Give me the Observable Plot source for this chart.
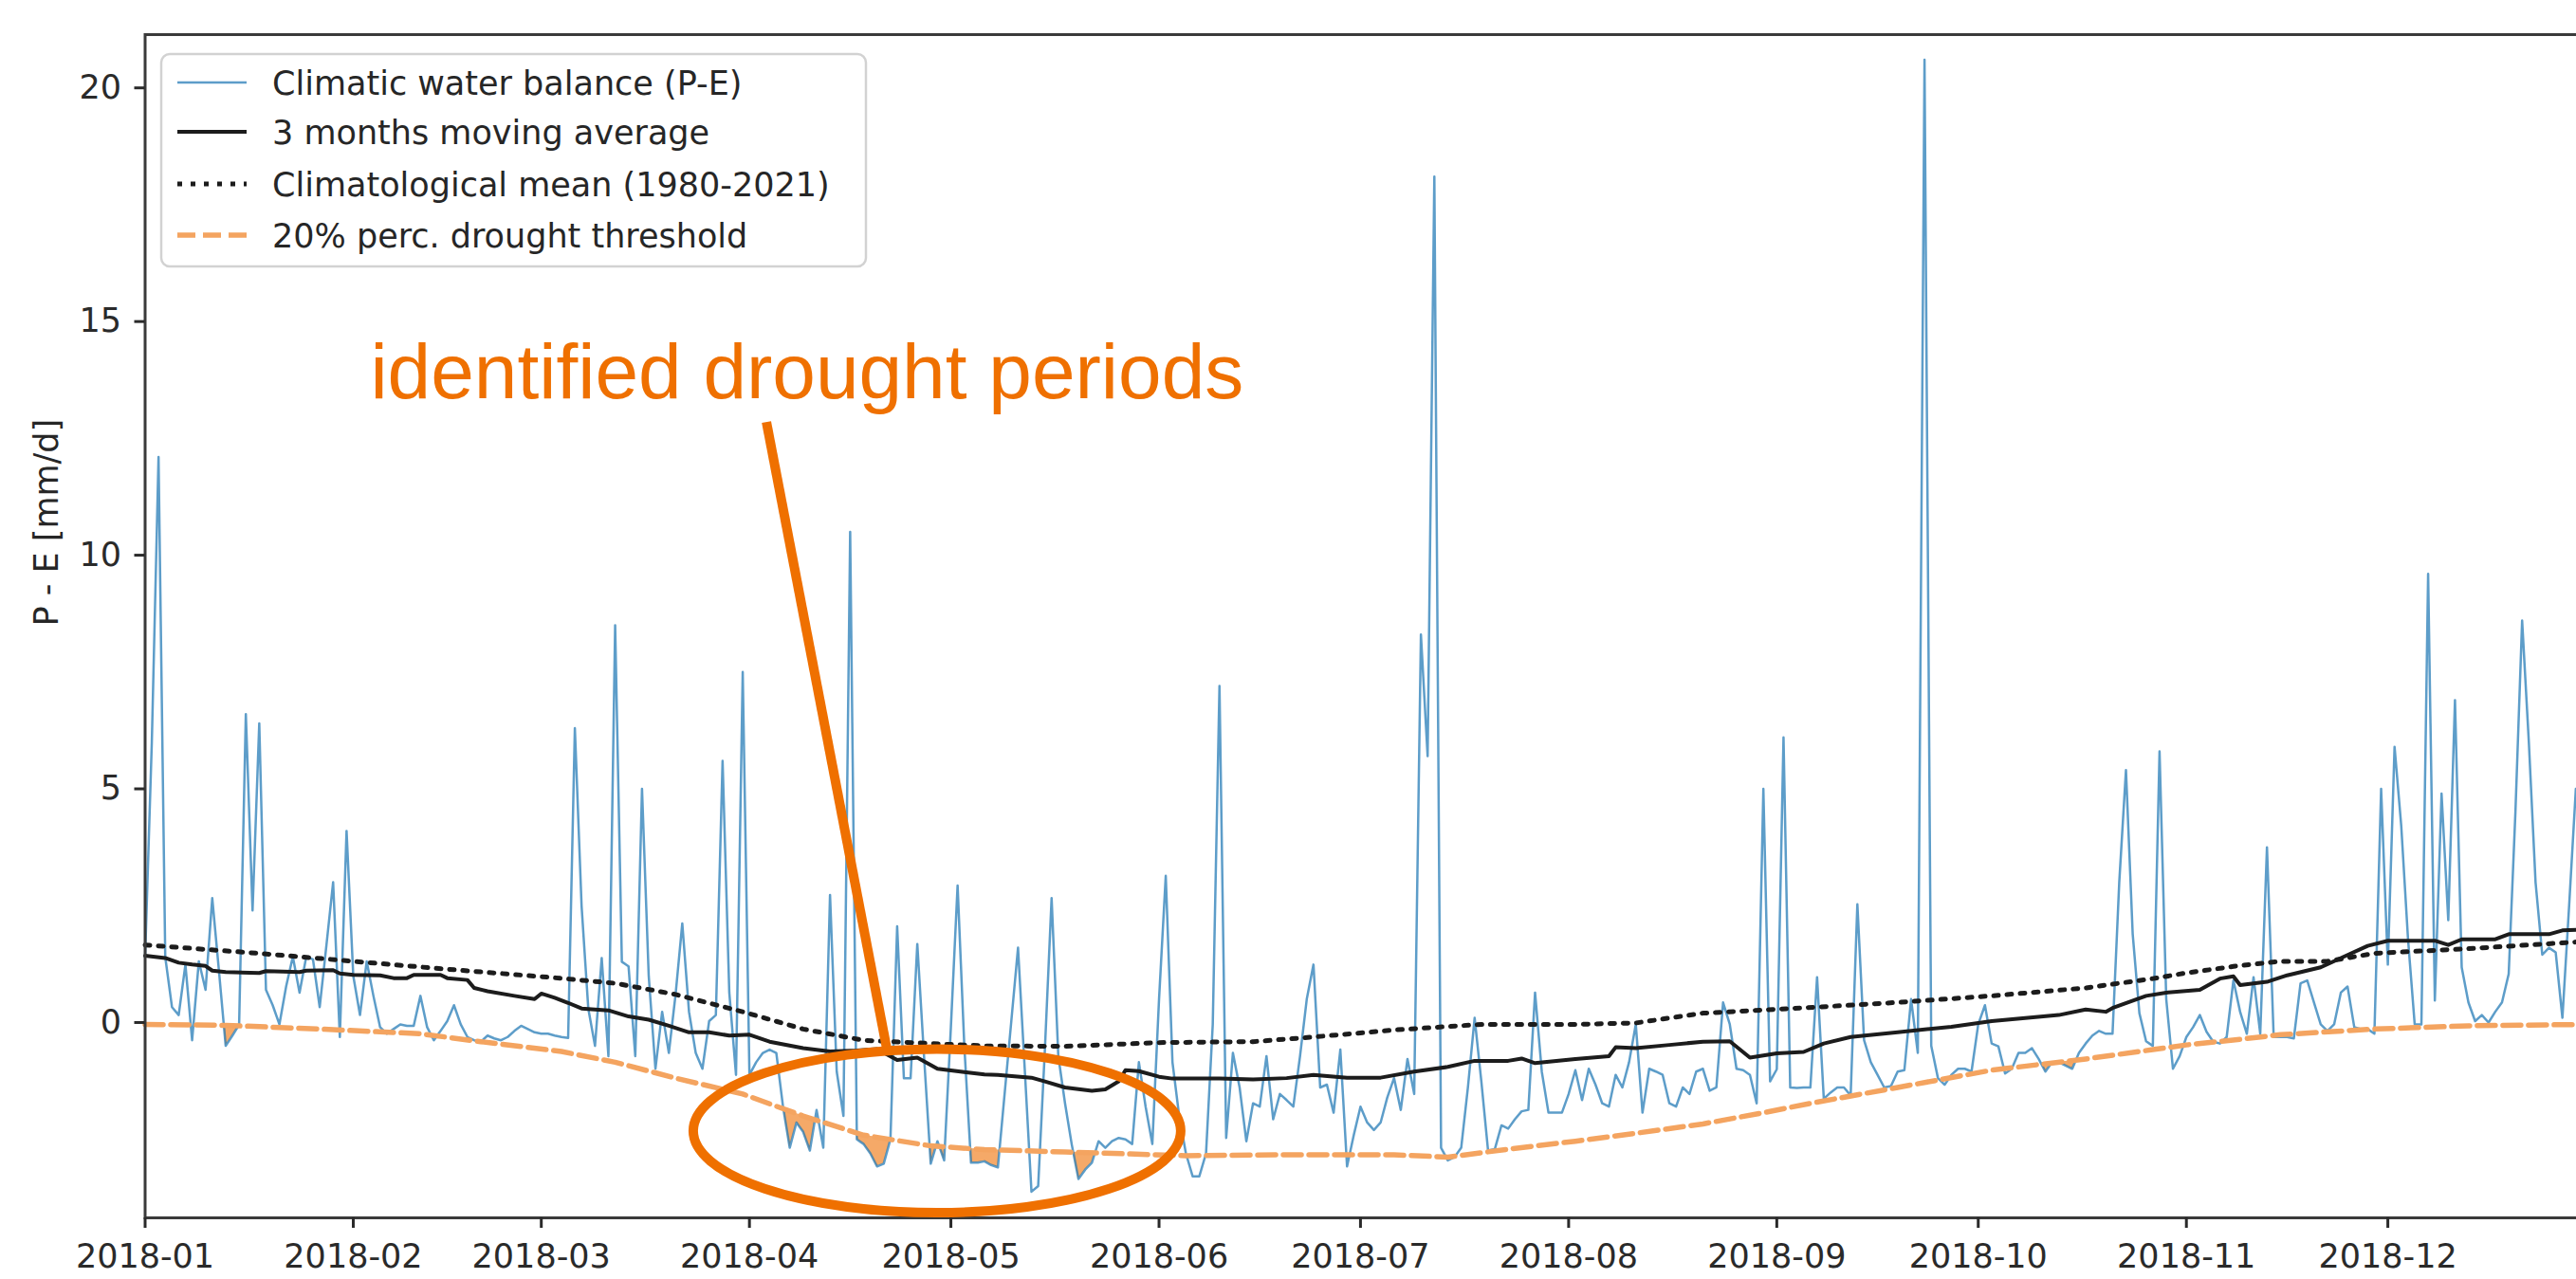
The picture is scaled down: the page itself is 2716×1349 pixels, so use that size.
<!DOCTYPE html>
<html>
<head>
<meta charset="utf-8">
<script src="https://cdn.jsdelivr.net/npm/d3@7"></script>
<script src="https://cdn.jsdelivr.net/npm/@observablehq/plot@0.6"></script>
<style>
  html, body { margin: 0; padding: 0; background: #fff; overflow: hidden; }
  #chart svg { max-width: none !important; display: block; }
  #chart svg g[aria-label="x-axis tick label"] text,
  #chart svg g[aria-label="y-axis tick label"] text { font-size: 35px !important; font-family: 'DejaVu Sans', sans-serif; }
</style>
</head>
<body>
<div id="chart"></div>
<script>
// ---------------- data ----------------
const startDate = "2018-01-01";

// daily climatic water balance P-E [mm/d], 2018-01-01 .. 2018-12-31
const peValues = [
  1.4, 6.0, 12.1, 1.4, 0.33, 0.16, 1.24, -0.38, 1.31, 0.70,
  2.66, 1.1, -0.5, -0.28, -0.05, 6.6, 2.4, 6.4, 0.70, 0.37,
  -0.04, 0.77, 1.41, 0.64, 1.41, 1.35, 0.33, 1.65, 3.0, -0.31,
  4.1, 1.0, 0.16, 1.31, 0.57, -0.1, -0.24, -0.14, -0.04, -0.07,
  -0.07, 0.57, -0.1, -0.38, -0.18, 0.03, 0.37, -0.04, -0.31, -0.38,
  -0.41, -0.28, -0.34, -0.38, -0.31, -0.18, -0.07, -0.14, -0.21, -0.24,
  -0.24, -0.28, -0.31, -0.33, 6.3, 2.5, 0.3, -0.5, 1.38, -0.72,
  8.5, 1.3, 1.2, -0.72, 5.0, 1.0, -0.99, 0.23, -0.65, 0.6,
  2.12, 0.23, -0.65, -0.99, 0.03, 0.16, 5.6, 0.64, -1.12, 7.5,
  -1.12, -0.85, -0.65, -0.58, -0.65, -1.8, -2.68, -2.14, -2.34, -2.74,
  -1.87, -2.68, 2.73, -1.05, -2.0, 10.5, -2.5, -2.6, -2.8, -3.08,
  -3.02, -2.5, 2.06, -1.19, -1.19, 1.68, -0.72, -3.02, -2.54, -2.95,
  -0.1, 2.93, -0.5, -3.0, -3.0, -2.97, -3.05, -3.1, -1.53, 0.03,
  1.6, -1.0, -3.62, -3.5, -0.58, 2.66, -0.72, -1.73, -2.61, -3.35,
  -3.15, -3.0, -2.54, -2.68, -2.54, -2.47, -2.5, -2.6, -0.85, -1.8,
  -2.6, 0.5, 3.14, -0.85, -2.0, -2.8, -3.29, -3.29, -2.8, -0.04,
  7.2, -2.47, -0.65, -1.39, -2.54, -1.73, -1.8, -0.72, -2.07, -1.53,
  -1.66, -1.8, -0.72, 0.5, 1.24, -1.39, -1.33, -1.93, -0.58, -3.08,
  -2.41, -1.8, -2.14, -2.3, -2.14, -1.6, -1.19, -1.87, -0.78, -1.53,
  8.3, 5.7, 18.1, -2.68, -2.95, -2.88, -2.68, -1.39, 0.1, -1.26,
  -2.74, -2.71, -2.2, -2.27, -2.07, -1.9, -1.87, 0.64, -1.05, -1.93,
  -1.93, -1.93, -1.53, -1.02, -1.66, -0.99, -1.33, -1.73, -1.8, -1.12,
  -1.39, -0.85, -0.04, -1.93, -0.99, -1.05, -1.12, -1.73, -1.8, -1.39,
  -1.53, -1.05, -0.99, -1.46, -1.39, 0.43, -0.04, -0.99, -1.02, -1.12,
  -1.73, 5.0, -1.26, -1.0, 6.1, -1.39, -1.4, -1.39, -1.39, 0.97,
  -1.63, -1.5, -1.39, -1.39, -1.56, 2.53, -0.38, -0.85, -1.12, -1.39,
  -1.36, -1.05, -1.02, 0.5, -0.65, 20.6, -0.5, -1.19, -1.33, -1.12,
  -0.99, -0.99, -1.05, -0.04, 0.37, -0.45, -0.51, -1.09, -0.99, -0.65,
  -0.65, -0.55, -0.78, -1.05, -0.85, -0.85, -0.92, -0.99, -0.65, -0.45,
  -0.28, -0.18, -0.24, -0.24, 3.0, 5.4, 1.9, 0.2, -0.4, -0.5,
  5.8, 0.5, -0.99, -0.72, -0.31, -0.1, 0.16, -0.2, -0.41, -0.45,
  -0.31, 0.9, 0.23, -0.24, 0.97, -0.24, 3.75, -0.31, -0.31, -0.31,
  -0.34, 0.84, 0.9, 0.43, -0.04, -0.18, -0.04, 0.64, 0.77, -0.1,
  -0.14, -0.14, -0.24, 5.0, 1.24, 5.9, 4.2, 1.8, -0.04, -0.04,
  9.6, 0.47, 4.9, 2.19, 6.9, 1.18, 0.43, 0.03, 0.16, 0.0,
  0.23, 0.43, 1.04, 4.5, 8.6, 6.0, 3.0, 1.45, 1.6, 1.5,
  0.1, 2.5, 5.0, 3.0, 1.5
];

// 3 months moving average (day of year, value)
const maDays = [0,3,5,7,9,10,12,17,18,23,24,28,29,31,35,37,39,40,44,45,48,49,51,55,58,59,61,63,65,69,72,75,78,81,84,87,90,93,98,102,106,109,112,115,118,122,125,127,132,134,137,141,143,145,146,148,151,153,160,165,170,174,179,184,189,194,198,203,205,207,213,218,219,222,227,232,236,239,243,247,250,254,261,269,275,285,289,292,293,298,301,306,309,311,312,316,319,324,327,331,334,341,343,345,350,352,358,360,364];
const maValues = [1.43,1.38,1.28,1.24,1.21,1.11,1.08,1.06,1.10,1.08,1.11,1.12,1.05,1.02,1.01,0.95,0.95,1.02,1.02,0.95,0.91,0.74,0.67,0.57,0.50,0.62,0.53,0.42,0.30,0.26,0.13,0.06,-0.07,-0.21,-0.21,-0.28,-0.26,-0.41,-0.55,-0.62,-0.60,-0.57,-0.80,-0.75,-0.99,-1.06,-1.11,-1.12,-1.18,-1.26,-1.39,-1.46,-1.43,-1.26,-1.02,-1.04,-1.16,-1.20,-1.20,-1.22,-1.19,-1.12,-1.18,-1.18,-1.05,-0.95,-0.82,-0.82,-0.77,-0.87,-0.78,-0.72,-0.53,-0.55,-0.48,-0.41,-0.40,-0.75,-0.66,-0.63,-0.45,-0.31,-0.21,-0.09,0.03,0.16,0.28,0.23,0.31,0.57,0.64,0.70,0.94,0.99,0.80,0.87,1.01,1.18,1.38,1.64,1.75,1.75,1.66,1.78,1.78,1.89,1.89,1.97,1.99];

// climatological mean 1980-2021 (day of year, value)
const climDays = [0,17,31,45,60,70,79,89,98,107,117,125,137,151,165,174,186,199,213,222,232,249,261,275,289,299,304,311,318,325,332,346,364];
const climValues = [1.66,1.48,1.31,1.14,0.97,0.84,0.60,0.23,-0.14,-0.38,-0.45,-0.50,-0.51,-0.43,-0.41,-0.31,-0.16,-0.04,-0.04,-0.01,0.20,0.33,0.43,0.57,0.74,0.94,1.06,1.20,1.31,1.31,1.48,1.58,1.74];

// 20% percentile drought threshold (day of year, value)
const thrDays = [0,12,26,41,50,62,70,79,89,98,107,117,125,137,155,170,186,194,203,213,222,232,241,248,261,275,289,299,304,312,318,332,346,364];
const thrValues = [-0.04,-0.06,-0.14,-0.24,-0.41,-0.62,-0.85,-1.19,-1.53,-2.0,-2.41,-2.64,-2.72,-2.77,-2.85,-2.83,-2.83,-2.88,-2.71,-2.54,-2.37,-2.17,-1.93,-1.73,-1.39,-1.02,-0.78,-0.58,-0.48,-0.36,-0.26,-0.14,-0.07,-0.04];

// identified drought periods (first day, last day of year)
const droughtPeriods = [[11,15],[94,100],[105,112],[116,120],[122,128],[138,142],[193,197],[281,289]];

const xTickDates = ["2018-01-01","2018-02-01","2018-03-01","2018-04-01","2018-05-01","2018-06-01","2018-07-01","2018-08-01","2018-09-01","2018-10-01","2018-11-01","2018-12-01"];
const xTickLabels = ["2018-01","2018-02","2018-03","2018-04","2018-05","2018-06","2018-07","2018-08","2018-09","2018-10","2018-11","2018-12"];
const yTicks = [0, 5, 10, 15, 20];
const yLabel = "P - E [mm/d]";
const legendLabels = ["Climatic water balance (P-E)", "3 months moving average", "Climatological mean (1980-2021)", "20% perc. drought threshold"];

// hand-drawn annotation, anchored in data coordinates
const annotationText = "identified drought periods";
const annotationTextAt = {day: 33.6, value: 13.35};
const annotationLine = [{day: 92.6, value: 12.84}, {day: 110.5, value: -0.55}];
const annotationEllipse = {day: 118.0, value: -2.33, rxDays: 36.3, ryValue: 1.75};

// ---------------- build ----------------
const day0 = new Date(startDate + "T00:00:00Z");
const dayToDate = d => new Date(day0.getTime() + d * 864e5);
const pairs = (days, vals) => days.map((d, i) => ({date: dayToDate(d), v: vals[i]}));

const peData = peValues.map((v, i) => ({date: dayToDate(i), v}));
const maData = pairs(maDays, maValues);
const climData = pairs(climDays, climValues);
const thrData = pairs(thrDays, thrValues);
const fillData = droughtPeriods.flatMap(([s, e], k) =>
  d3.range(s, e + 1).map(d => ({date: dayToDate(d), v: peValues[d], period: k})));

const yDomain = [-4.18, 21.14];
const blue = "#1f77b4", black = "#1c1c1c", sandy = "#f4a460", annColor = "#ef7000";
const labelByTime = new Map(xTickDates.map((d, i) => [+new Date(d + "T00:00:00Z"), xTickLabels[i]]));

const lineStyles = [
  {stroke: blue, width: 2.5, opacity: 0.72, dash: null},
  {stroke: black, width: 4, opacity: 1, dash: null},
  {stroke: black, width: 5, opacity: 1, dash: "5,9"},
  {stroke: sandy, width: 5.5, opacity: 1, dash: "19,8"}
];

const chart = Plot.plot({
  width: 2732,
  height: 1349,
  marginLeft: 152.5,
  marginRight: 2.5,
  marginTop: 36,
  marginBottom: 65,
  style: {fontFamily: "'DejaVu Sans', sans-serif", fontSize: "35px", background: "#fff", color: "#262626"},
  x: {type: "utc", domain: [dayToDate(0), dayToDate(364)]},
  y: {domain: yDomain},
  marks: [
    Plot.area(fillData, {x1: "date", y1: "v", y2: yDomain[1], z: "period", fill: sandy, fillOpacity: 0.95}),
    Plot.line(peData, {x: "date", y: "v", stroke: blue, strokeWidth: lineStyles[0].width, strokeOpacity: lineStyles[0].opacity}),
    Plot.line(maData, {x: "date", y: "v", stroke: black, strokeWidth: lineStyles[1].width}),
    Plot.line(climData, {x: "date", y: "v", stroke: black, strokeWidth: lineStyles[2].width, strokeDasharray: lineStyles[2].dash}),
    Plot.line(thrData, {x: "date", y: "v", stroke: sandy, strokeWidth: lineStyles[3].width, strokeDasharray: lineStyles[3].dash}),
    Plot.frame({stroke: "#3a3a3a", strokeWidth: 3}),
    Plot.axisY({ticks: yTicks, tickSize: 11, tickPadding: 14, fontSize: 35, strokeWidth: 3, color: "#2a2a2a", label: null, tickFormat: d => String(d)}),
    Plot.axisX({ticks: xTickDates.map(d => new Date(d + "T00:00:00Z")), tickSize: 11, tickPadding: 17, fontSize: 35, strokeWidth: 3, color: "#2a2a2a", label: null, tickFormat: d => labelByTime.get(+d)}),
    Plot.text([yLabel], {frameAnchor: "left", rotate: -90, dx: -103.5, fontSize: 35, fill: "#262626"})
  ]
});

document.getElementById("chart").appendChild(chart);

// clip the drought fill to the region below the threshold
const sx = chart.scale("x"), sy = chart.scale("y");
const svg = d3.select(chart);
const defs = svg.insert("defs", ":first-child");
const thrArea = d3.area()
  .x(d => sx.apply(d.date))
  .y0(sy.apply(yDomain[0]))
  .y1(d => sy.apply(d.v));
defs.append("clipPath").attr("id", "below-threshold")
  .append("path").attr("d", thrArea(thrData));
svg.select('g[aria-label="area"]').attr("clip-path", "url(#below-threshold)");

// legend (inside the axes, upper left)
const fx0 = sx.range[0], fy0 = sy.range[1];
const lx = fx0 + 17.5, ly = fy0 + 21;
const lg = svg.append("g")
  .attr("font-family", "'DejaVu Sans', sans-serif")
  .attr("font-size", 35)
  .attr("text-anchor", "start");
lg.append("rect").attr("x", lx).attr("y", ly).attr("width", 743).attr("height", 224).attr("rx", 9)
  .attr("fill", "#fff").attr("fill-opacity", 0.85).attr("stroke", "#d2d2d2").attr("stroke-width", 2.5);
const rowY = [30, 82, 137, 191];
legendLabels.forEach((label, i) => {
  const y = ly + rowY[i];
  const s = lineStyles[i];
  lg.append("line").attr("x1", lx + 17).attr("x2", lx + 90).attr("y1", y).attr("y2", y)
    .attr("stroke", s.stroke).attr("stroke-width", s.width)
    .attr("stroke-opacity", s.opacity).attr("stroke-dasharray", s.dash);
  lg.append("text").attr("x", lx + 117).attr("y", y).attr("dy", "0.36em")
    .attr("text-anchor", "start")
    .attr("fill", "#262626").text(label);
});

// annotation
const ann = svg.append("g");
ann.append("text")
  .attr("x", sx.apply(dayToDate(annotationTextAt.day)))
  .attr("y", sy.apply(annotationTextAt.value))
  .attr("font-family", "'Liberation Sans', Arial, sans-serif")
  .attr("font-size", 82)
  .attr("text-anchor", "start")
  .attr("fill", annColor)
  .text(annotationText);
ann.append("line")
  .attr("x1", sx.apply(dayToDate(annotationLine[0].day))).attr("y1", sy.apply(annotationLine[0].value))
  .attr("x2", sx.apply(dayToDate(annotationLine[1].day))).attr("y2", sy.apply(annotationLine[1].value))
  .attr("stroke", annColor).attr("stroke-width", 10).attr("stroke-linecap", "butt");
const ecx = sx.apply(dayToDate(annotationEllipse.day));
const ecy = sy.apply(annotationEllipse.value);
ann.append("ellipse")
  .attr("cx", ecx).attr("cy", ecy)
  .attr("rx", sx.apply(dayToDate(annotationEllipse.day + annotationEllipse.rxDays)) - ecx)
  .attr("ry", sy.apply(annotationEllipse.value - annotationEllipse.ryValue) - ecy)
  .attr("fill", "none").attr("stroke", annColor).attr("stroke-width", 10);
</script>
</body>
</html>
